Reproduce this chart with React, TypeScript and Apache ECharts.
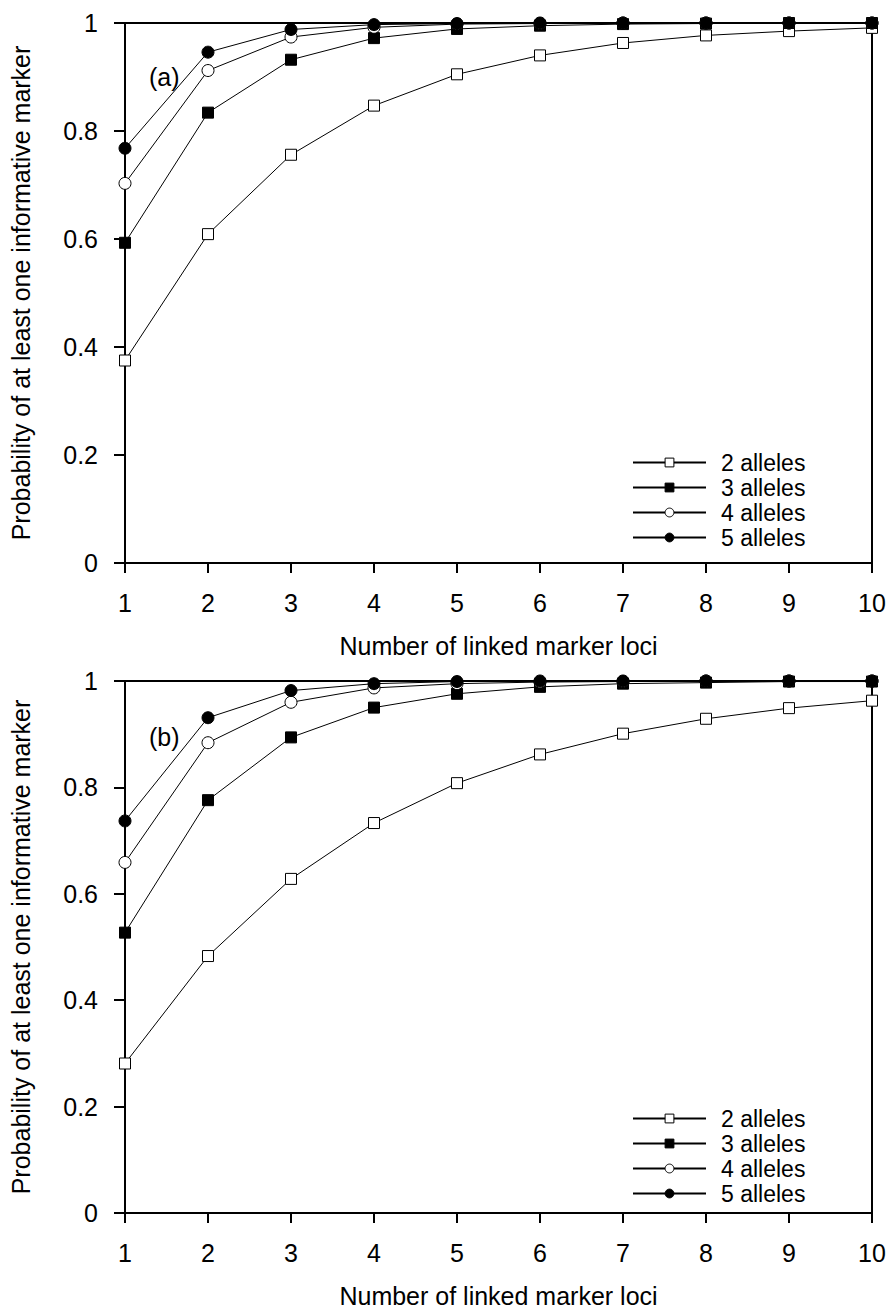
import React, { useEffect, useRef } from "react";
import * as echarts from "echarts";

const LOCI = [1, 2, 3, 4, 5, 6, 7, 8, 9, 10];
const SERIES_NAMES = ["2 alleles", "3 alleles", "4 alleles", "5 alleles"];
const Y_TICKS = [0, 0.2, 0.4, 0.6, 0.8, 1];

// Panel (a)
const A_2 = [0.375, 0.609, 0.756, 0.847, 0.905, 0.940, 0.963, 0.977, 0.985, 0.991];
const A_3 = [0.593, 0.834, 0.932, 0.972, 0.989, 0.995, 0.998, 0.999, 1.0, 1.0];
const A_4 = [0.703, 0.912, 0.974, 0.992, 0.998, 0.999, 1.0, 1.0, 1.0, 1.0];
const A_5 = [0.768, 0.946, 0.988, 0.997, 0.999, 1.0, 1.0, 1.0, 1.0, 1.0];

// Panel (b)
const B_2 = [0.281, 0.483, 0.628, 0.733, 0.808, 0.862, 0.901, 0.929, 0.949, 0.963];
const B_3 = [0.527, 0.776, 0.894, 0.950, 0.976, 0.989, 0.995, 0.997, 0.999, 0.999];
const B_4 = [0.659, 0.884, 0.960, 0.987, 0.995, 0.998, 0.999, 1.0, 1.0, 1.0];
const B_5 = [0.737, 0.931, 0.982, 0.995, 0.999, 1.0, 1.0, 1.0, 1.0, 1.0];

const PANEL_LABELS = ["(a)", "(b)"];
const X_TITLE = "Number of linked marker loci";
const Y_TITLE = "Probability of at least one informative marker";

const FONT = "'Liberation Sans', Arial, Helvetica, sans-serif";

const STYLES = [
  { symbol: "rect", fill: "#ffffff", size: 11 },
  { symbol: "rect", fill: "#000000", size: 11 },
  { symbol: "circle", fill: "#ffffff", size: 12 },
  { symbol: "circle", fill: "#000000", size: 12 },
];

export default function App() {
  const ref = useRef<HTMLDivElement>(null);

  useEffect(() => {
    if (!ref.current) return;
    const chart = echarts.init(ref.current, null, { renderer: "svg" });

    const grids = [
      { left: 123, top: 23, width: 749, height: 540 },
      { left: 123, top: 681, width: 749, height: 539 },
    ];

    const makeX = (gi: number) => ({
      type: "value",
      gridIndex: gi,
      min: 1,
      max: 10,
      interval: 1,
      name: X_TITLE,
      nameLocation: "middle",
      nameGap: 70,
      nameTextStyle: { fontSize: 25, color: "#000", fontFamily: FONT },
      axisLine: { show: true, onZero: false, lineStyle: { color: "#000", width: 2 } },
      axisTick: { show: true, inside: false, length: 10, lineStyle: { color: "#000", width: 2 } },
      axisLabel: { fontSize: 25, color: "#000", margin: 27, fontFamily: FONT },
      splitLine: { show: false },
    });

    const makeY = (gi: number) => ({
      type: "value",
      gridIndex: gi,
      min: 0,
      max: 1,
      interval: 0.2,
      name: Y_TITLE,
      nameLocation: "middle",
      nameGap: 92,
      nameRotate: 90,
      nameTextStyle: { fontSize: 25, color: "#000", fontFamily: FONT },
      axisLine: { show: true, onZero: false, lineStyle: { color: "#000", width: 2 } },
      axisTick: { show: true, inside: false, length: 11, lineStyle: { color: "#000", width: 2 } },
      axisLabel: {
        fontSize: 25,
        color: "#000",
        margin: 27,
        fontFamily: FONT,
        formatter: (v: number) => {
          const t = Y_TICKS.find((k) => Math.abs(k - v) < 1e-9);
          return t === undefined ? "" : String(t);
        },
      },
      splitLine: { show: false },
    });

    const panels = [
      [A_2, A_3, A_4, A_5],
      [B_2, B_3, B_4, B_5],
    ];

    const series: any[] = [];
    panels.forEach((arrs, gi) => {
      arrs.forEach((vals, si) => {
        const st = STYLES[si];
        series.push({
          type: "line",
          name: SERIES_NAMES[si],
          xAxisIndex: gi,
          yAxisIndex: gi,
          data: LOCI.map((x, i) => [x, vals[i]]),
          symbol: st.symbol,
          symbolSize: st.size,
          showAllSymbol: true,
          clip: false,
          lineStyle: { color: "#000", width: 1 },
          itemStyle: { color: st.fill, borderColor: "#000", borderWidth: 1, opacity: 1 },
          emphasis: { disabled: true },
        });
      });
    });

    const makeLegend = (top: number) => ({
      orient: "vertical",
      left: 632,
      top,
      itemWidth: 73,
      itemHeight: 11,
      itemGap: 2,
      padding: 0,
      selectedMode: false,
      data: SERIES_NAMES,
      itemStyle: { borderWidth: 1 },
      textStyle: {
        fontSize: 23,
        lineHeight: 23,
        color: "#000",
        fontFamily: FONT,
        padding: [0, 0, 0, 10],
      },
    });

    chart.setOption({
      animation: false,
      backgroundColor: "#ffffff",
      textStyle: { fontFamily: FONT },
      grid: grids.map((g) => ({
        ...g,
        show: true,
        borderColor: "#000",
        borderWidth: 2,
        backgroundColor: "transparent",
      })),
      xAxis: [makeX(0), makeX(1)],
      yAxis: [makeY(0), makeY(1)],
      legend: [makeLegend(451), makeLegend(1107)],
      graphic: [
        {
          type: "text",
          left: 149,
          top: 64,
          style: { text: PANEL_LABELS[0], fontSize: 25, fill: "#000", fontFamily: FONT },
        },
        {
          type: "text",
          left: 149,
          top: 724,
          style: { text: PANEL_LABELS[1], fontSize: 25, fill: "#000", fontFamily: FONT },
        },
      ],
      series,
    });

    return () => chart.dispose();
  }, []);

  return (
    <div
      ref={ref}
      style={{ position: "absolute", left: 0, top: 0, width: 891, height: 1309, background: "#fff" }}
    />
  );
}
